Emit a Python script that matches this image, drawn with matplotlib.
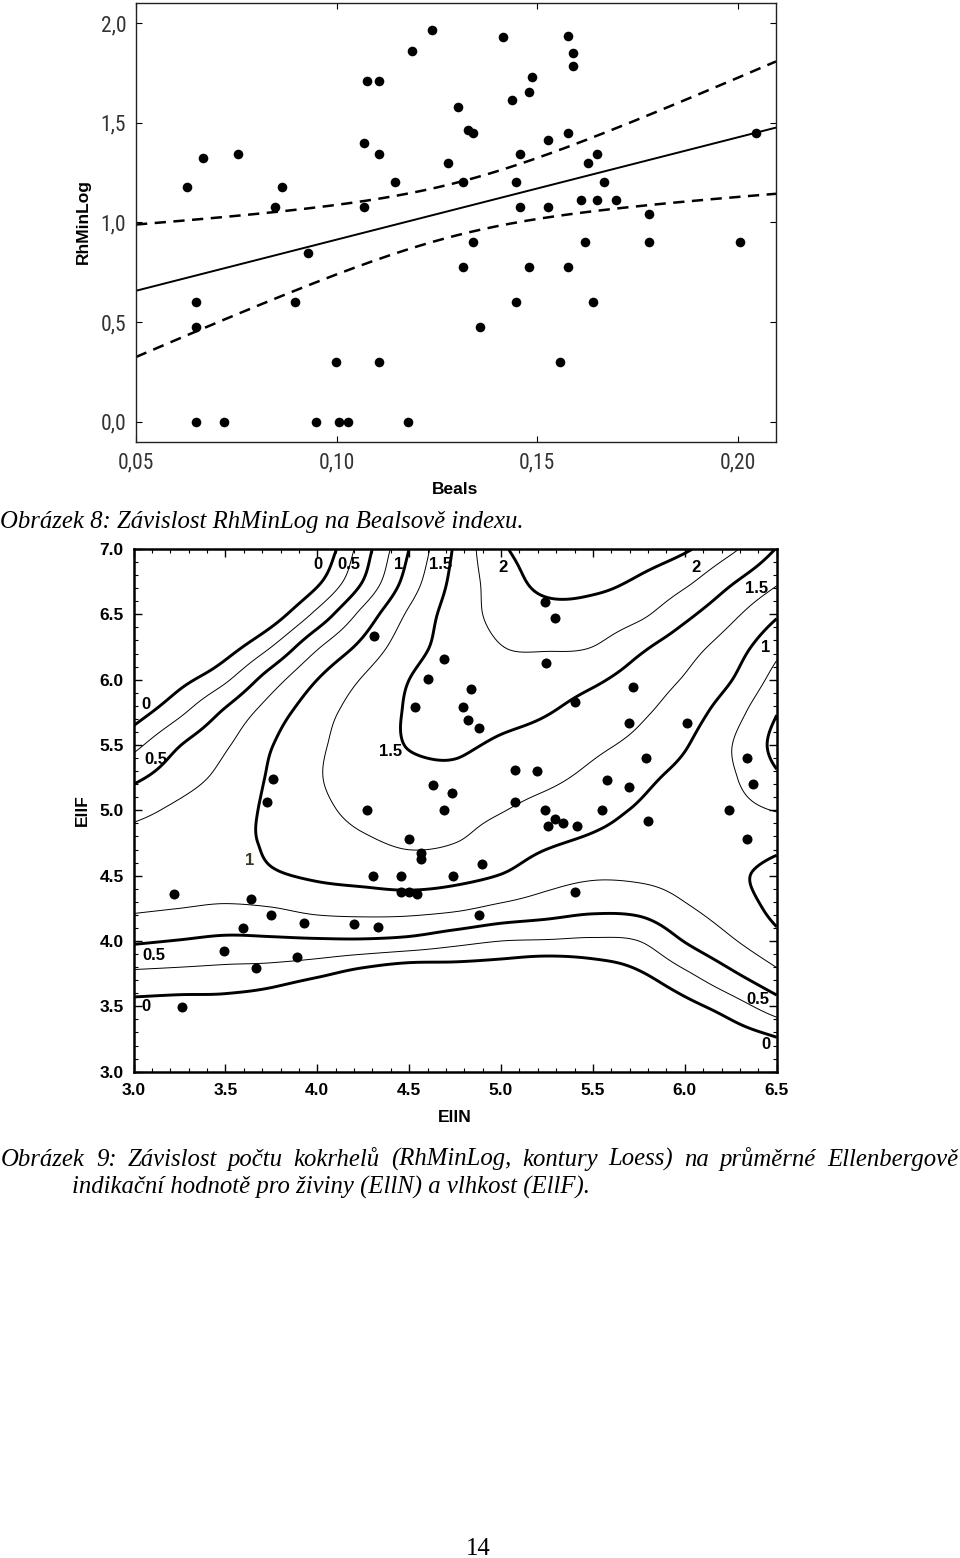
import numpy as np
import matplotlib
matplotlib.use("Agg")
import matplotlib.pyplot as plt

# ---------------- data: chart 1 (Beals vs RhMinLog) ----------------
beals = [0.0626, 0.0668, 0.0755, 0.0846, 0.0865, 0.1069, 0.1069, 0.1076, 0.1106, 0.1106,
         0.1146, 0.1187, 0.1237, 0.1278, 0.1303, 0.1315, 0.1328, 0.1339, 0.1415, 0.1438,
         0.1457, 0.1448, 0.1457, 0.1479, 0.1486, 0.1527, 0.1527, 0.1577, 0.1589, 0.1589,
         0.1577, 0.1608, 0.1627, 0.1648, 0.1648, 0.1667, 0.1696, 0.1778, 0.2046, 0.0929,
         0.0649, 0.0896, 0.0649, 0.0998, 0.1106, 0.0649, 0.0719, 0.0948, 0.1006, 0.1029,
         0.1177, 0.1339, 0.1619, 0.1778, 0.2006, 0.1315, 0.1479, 0.1577, 0.1448, 0.1638,
         0.1357, 0.1556]
rhminlog = [1.176, 1.322, 1.342, 1.079, 1.176, 1.398, 1.079, 1.708, 1.708, 1.342,
            1.204, 1.863, 1.968, 1.301, 1.580, 1.204, 1.462, 1.447, 1.929, 1.613,
            1.342, 1.204, 1.079, 1.653, 1.732, 1.415, 1.079, 1.934, 1.851, 1.785,
            1.447, 1.114, 1.301, 1.342, 1.114, 1.204, 1.114, 1.041, 1.447, 0.845,
            0.602, 0.602, 0.477, 0.301, 0.301, 0.0, 0.0, 0.0, 0.0, 0.0,
            0.0, 0.903, 0.903, 0.903, 0.903, 0.778, 0.778, 0.778, 0.602, 0.602,
            0.477, 0.301]
x1_ticks = [0.05, 0.10, 0.15, 0.20]
x1_ticklabels = ["0,05", "0,10", "0,15", "0,20"]
y1_ticks = [0.0, 0.5, 1.0, 1.5, 2.0]
y1_ticklabels = ["0,0", "0,5", "1,0", "1,5", "2,0"]

# ---------------- data: chart 2 (EllN vs EllF, Loess contours) ----------------
elln = [4.310, 4.691, 4.604, 4.532, 3.757, 3.725, 4.628, 4.731, 4.269, 4.691,
        5.239, 5.293, 5.243, 4.834, 5.716, 5.404, 4.795, 4.822, 4.882, 5.698,
        6.010, 5.788, 6.336, 5.076, 5.194, 5.575, 5.698, 6.369, 5.076,
        5.239, 5.547, 6.242, 5.253, 5.295, 5.338, 5.411, 5.799, 6.336, 4.894,
        4.737, 5.404, 4.882,
        4.501, 4.562, 4.562, 4.301, 4.454, 4.454, 4.501, 4.541, 3.222, 3.638,
        3.748, 3.928, 4.200, 4.329, 3.597, 3.494, 3.888, 3.666, 3.266]
ellf = [6.332, 6.156, 6.003, 5.794, 5.243, 5.062, 5.192, 5.131, 5.000, 5.000,
        6.595, 6.475, 6.130, 5.931, 5.944, 5.832, 5.789, 5.692, 5.633, 5.671,
        5.671, 5.401, 5.401, 5.309, 5.304, 5.233, 5.181, 5.202, 5.062,
        5.000, 5.000, 5.000, 4.883, 4.932, 4.901, 4.878, 4.921, 4.781, 4.590,
        4.498, 4.378, 4.200,
        4.781, 4.672, 4.628, 4.498, 4.498, 4.378, 4.378, 4.360, 4.360, 4.324,
        4.197, 4.136, 4.128, 4.110, 4.098, 3.927, 3.876, 3.792, 3.498]

# Loess surface (rows: EllF from 7.0 down to 3.0)
grid_elln = [3.0, 3.25, 3.5, 3.75, 4.0, 4.25, 4.5, 4.75, 5.0, 5.25, 5.5, 5.75, 6.0, 6.25, 6.5]
grid_ellf = [7.0, 6.75, 6.5, 6.25, 6.0, 5.75, 5.5, 5.25, 5.0, 4.75, 4.5, 4.25, 4.0, 3.75, 3.5, 3.25, 3.0]
loess_rows = [
    [-1.45, -1.25, -1.0, -0.7, -0.25, 0.375, 1.0, 1.53, 1.96, 2.1, 2.15, 2.12, 2.03, 1.80, 1.49],
    [-1.2, -1.0, -0.75, -0.45, -0.05, 0.51, 1.11, 1.57, 1.87, 2.07, 2.06, 1.97, 1.80, 1.53, 1.28],
    [-0.95, -0.75, -0.5, -0.15, 0.32, 0.83, 1.29, 1.61, 1.82, 1.91, 1.90, 1.80, 1.56, 1.31, 1.03],
    [-0.75, -0.5, -0.14, 0.25, 0.72, 1.07, 1.40, 1.60, 1.745, 1.77, 1.748, 1.55, 1.35, 1.13, 0.82],
    [-0.45, -0.1, 0.21, 0.63, 1.0, 1.27, 1.5, 1.62, 1.67, 1.62, 1.54, 1.39, 1.23, 1.01, 0.66],
    [-0.13, 0.2, 0.54, 0.87, 1.15, 1.355, 1.52, 1.58, 1.56, 1.51, 1.40, 1.29, 1.12, 0.86, 0.51],
    [0.18, 0.49, 0.72, 0.99, 1.21, 1.37, 1.51, 1.53, 1.47, 1.41, 1.30, 1.19, 1.02, 0.76, 0.43],
    [0.45, 0.64, 0.82, 1.03, 1.23, 1.36, 1.43, 1.45, 1.36, 1.30, 1.19, 1.06, 0.93, 0.78, 0.54],
    [0.68, 0.80, 0.91, 1.04, 1.19, 1.32, 1.40, 1.33, 1.26, 1.165, 1.07, 0.98, 0.90, 0.82, 0.74],
    [0.84, 0.88, 0.93, 1.03, 1.12, 1.21, 1.28, 1.25, 1.14, 1.03, 0.96, 0.92, 0.89, 0.88, 0.94],
    [0.87, 0.87, 0.88, 0.97, 1.03, 1.07, 1.11, 1.07, 0.99, 0.85, 0.78, 0.79, 0.84, 0.95, 1.07],
    [0.78, 0.75, 0.72, 0.74, 0.81, 0.83, 0.83, 0.79, 0.69, 0.61, 0.55, 0.57, 0.72, 0.87, 1.06],
    [0.53, 0.49, 0.45, 0.46, 0.47, 0.47, 0.43, 0.33, 0.25, 0.23, 0.21, 0.25, 0.51, 0.72, 0.93],
    [0.21, 0.19, 0.17, 0.14, 0.05, -0.10, -0.22, -0.19, -0.21, -0.29, -0.19, -0.03, 0.21, 0.46, 0.70],
    [-0.09, -0.11, -0.12, -0.2, -0.4, -0.55, -0.75, -0.7, -0.7, -0.8, -0.65, -0.35, -0.1, 0.13, 0.38],
    [-0.45, -0.45, -0.5, -0.6, -0.85, -1.0, -1.2, -1.2, -1.2, -1.3, -1.15, -0.85, -0.5, -0.2, -0.02],
    [-0.8, -0.8, -0.85, -1.0, -1.25, -1.45, -1.65, -1.65, -1.65, -1.75, -1.6, -1.3, -0.9, -0.6, -0.35],
]
thick_levels = [0.0, 0.5, 1.0, 1.5, 2.0]
thin_levels = [0.25, 0.75, 1.25, 1.75]
contour_labels = ["0", "0.5", "1", "1.5", "2", "2", "1.5", "1", "1.5", "0", "0.5", "1", "0.5", "0", "0.5", "0"]
contour_label_pos = [(4.005, 6.88), (4.17, 6.88), (4.44, 6.88), (4.67, 6.88), (5.01, 6.86), (6.06, 6.86),
                     (6.39, 6.70), (6.44, 6.25), (4.40, 5.45), (3.07, 5.81), (3.12, 5.39), (3.63, 4.62),
                     (3.11, 3.89), (3.07, 3.50), (6.40, 3.55), (6.44, 3.21)]
x2_ticks = [3.0, 3.5, 4.0, 4.5, 5.0, 5.5, 6.0, 6.5]
y2_ticks = [3.0, 3.5, 4.0, 4.5, 5.0, 5.5, 6.0, 6.5, 7.0]

caption1 = "Obrázek 8: Závislost RhMinLog na Bealsově indexu."
caption2_line1 = "Obrázek 9: Závislost počtu kokrhelů (RhMinLog, kontury Loess) na průměrné Ellenbergově"
caption2_line2 = "indikační hodnotě pro živiny (EllN) a vlhkost (EllF)."
page_number = "14"

# ---------------- figure ----------------
W, H = 960, 1558
fig = plt.figure(figsize=(W / 100, H / 100), dpi=100)
fig.patch.set_facecolor("white")


def fy(py):
    return 1 - py / H


NARROW = ["Liberation Sans Narrow", "Roboto Condensed", "Roboto", "DejaVu Sans"]
SANS = ["Liberation Sans", "DejaVu Sans"]
SERIF = ["Liberation Serif", "DejaVu Serif"]

# ---- chart 1 ----
ax1 = fig.add_axes([136 / W, fy(441.7), (776 - 136) / W, (441.7 - 3.3) / H])
bx = np.array(beals)
ry = np.array(rhminlog)
n = len(bx)
b1, b0 = np.polyfit(bx, ry, 1)
resid = ry - (b0 + b1 * bx)
s = np.sqrt(np.sum(resid ** 2) / (n - 2))
sxx = np.sum((bx - bx.mean()) ** 2)
xs = np.linspace(0.05, 0.2095, 300)
yh = b0 + b1 * xs
ci = 2.0 * s * np.sqrt(1.0 / n + (xs - bx.mean()) ** 2 / sxx)
ax1.plot(xs, yh, color="black", lw=1.4, zorder=2)
ax1.plot(xs, yh + ci, color="black", lw=1.8, dashes=(4.5, 3), zorder=2)
ax1.plot(xs, yh - ci, color="black", lw=1.8, dashes=(4.5, 3), zorder=2)
ax1.scatter(bx, ry, s=48, c="black", marker="o", linewidths=0, zorder=3)
ax1.set_xlim(0.05, 0.2095)
ax1.set_ylim(-0.1, 2.1)
ax1.set_xticks(x1_ticks)
ax1.set_xticklabels(x1_ticklabels, fontfamily=NARROW, fontsize=15.5, color="#333333")
ax1.set_yticks(y1_ticks)
ax1.set_yticklabels(y1_ticklabels, fontfamily=NARROW, fontsize=15.5, color="#333333")
ax1.tick_params(axis="both", direction="in", length=4, width=0.8, top=True, right=True)
ax1.tick_params(axis="x", pad=8)
ax1.tick_params(axis="y", pad=7)
for sp in ax1.spines.values():
    sp.set_linewidth(1.0)
    sp.set_color("#222222")
fig.text(83 / W, fy(222), "RhMinLog", rotation=90, ha="center", va="center",
         fontsize=12.5, fontweight="bold", fontfamily=SANS)
fig.text(455 / W, fy(489), "Beals", ha="center", va="center",
         fontsize=12.5, fontweight="bold", fontfamily=SANS)

# ---- chart 2 ----
ax2 = fig.add_axes([133.5 / W, fy(1071.7), (776.7 - 133.5) / W, (1071.7 - 549) / H])

gx = np.array(grid_elln)
gy = np.array(grid_ellf)[::-1]
Z = np.array(loess_rows)[::-1]


def keys(t, a=-0.5):
    t = np.abs(t)
    return np.where(t <= 1, (a + 2) * t ** 3 - (a + 3) * t ** 2 + 1,
                    np.where(t < 2, a * t ** 3 - 5 * a * t ** 2 + 8 * a * t - 4 * a, 0.0))


def resample_matrix(nn, m):
    u = np.linspace(0, nn - 1, m)
    E = np.zeros((nn + 2, nn))
    E[1:nn + 1] = np.eye(nn)
    E[0, 0], E[0, 1] = 2, -1
    E[nn + 1, nn - 1], E[nn + 1, nn - 2] = 2, -1
    Wm = np.zeros((m, nn + 2))
    for k, uk in enumerate(u):
        i = min(int(np.floor(uk)), nn - 2)
        f = uk - i
        for off in (-1, 0, 1, 2):
            Wm[k, i + off + 1] += keys(f - off)
    return Wm @ E


mx, my = 211, 241
Mx = resample_matrix(len(gx), mx)
My = resample_matrix(len(gy), my)
Zf = My @ Z @ Mx.T
Xf, Yf = np.meshgrid(np.linspace(gx[0], gx[-1], mx), np.linspace(gy[0], gy[-1], my))
ax2.contour(Xf, Yf, Zf, levels=thin_levels, colors="black", linewidths=0.7, zorder=1)
ax2.contour(Xf, Yf, Zf, levels=thick_levels, colors="black", linewidths=2.1, zorder=2)
ax2.scatter(elln, ellf, s=52, c="black", marker="o", linewidths=0, zorder=3)
for lab, (lx, ly) in zip(contour_labels, contour_label_pos):
    col = "#3d3520" if (lab == "1" and lx < 4) else "black"
    ax2.text(lx, ly, lab, ha="center", va="center", fontsize=12, fontweight="bold",
             fontfamily=SANS, color=col, zorder=4)
ax2.set_xlim(3.0, 6.5)
ax2.set_ylim(3.0, 7.0)
ax2.set_xticks(x2_ticks)
ax2.set_xticklabels(["%.1f" % v for v in x2_ticks], fontfamily=SANS, fontsize=12.5, fontweight="bold")
ax2.set_yticks(y2_ticks)
ax2.set_yticklabels(["%.1f" % v for v in y2_ticks], fontfamily=SANS, fontsize=12.5, fontweight="bold")
ax2.set_xticks(np.arange(3.0, 6.51, 0.1), minor=True)
ax2.set_yticks(np.arange(3.0, 7.01, 0.1), minor=True)
ax2.tick_params(axis="both", which="major", direction="in", length=6, width=1.0, top=True, right=True)
ax2.tick_params(axis="both", which="minor", direction="in", length=3, width=0.8, top=True, right=True)
ax2.tick_params(axis="x", which="major", pad=8)
ax2.tick_params(axis="y", which="major", pad=7)
for sp in ax2.spines.values():
    sp.set_linewidth(1.8)
    sp.set_color("black")
fig.text(82 / W, fy(810), "EllF", rotation=90, ha="center", va="center",
         fontsize=12.5, fontweight="bold", fontfamily=SANS)
fig.text(455 / W, fy(1118), "EllN", ha="center", va="center",
         fontsize=12.5, fontweight="bold", fontfamily=SANS)

# ---- captions ----
cap_kw = dict(fontfamily=SERIF, style="italic", fontsize=17.8)
fig.text(0, fy(528), caption1, ha="left", va="baseline", **cap_kw)

renderer = fig.canvas.get_renderer()


def justified(text, x0, x1, ybase, **kw):
    words = text.split()
    objs = [fig.text(0, fy(ybase), w, ha="left", va="baseline", **kw) for w in words]
    widths = [o.get_window_extent(renderer=renderer).width for o in objs]
    gap = ((x1 - x0) - sum(widths)) / (len(words) - 1)
    x = x0
    for o, wd in zip(objs, widths):
        o.set_x(x / W)
        x += wd + gap


justified(caption2_line1, 1, 958, 1166, **cap_kw)
fig.text(72 / W, fy(1194), caption2_line2, ha="left", va="baseline", **cap_kw)
fig.text(478 / W, fy(1555), page_number, ha="center", va="baseline",
         fontfamily=SERIF, fontsize=17.8)

fig.savefig("out.png", dpi=100, facecolor="white")
